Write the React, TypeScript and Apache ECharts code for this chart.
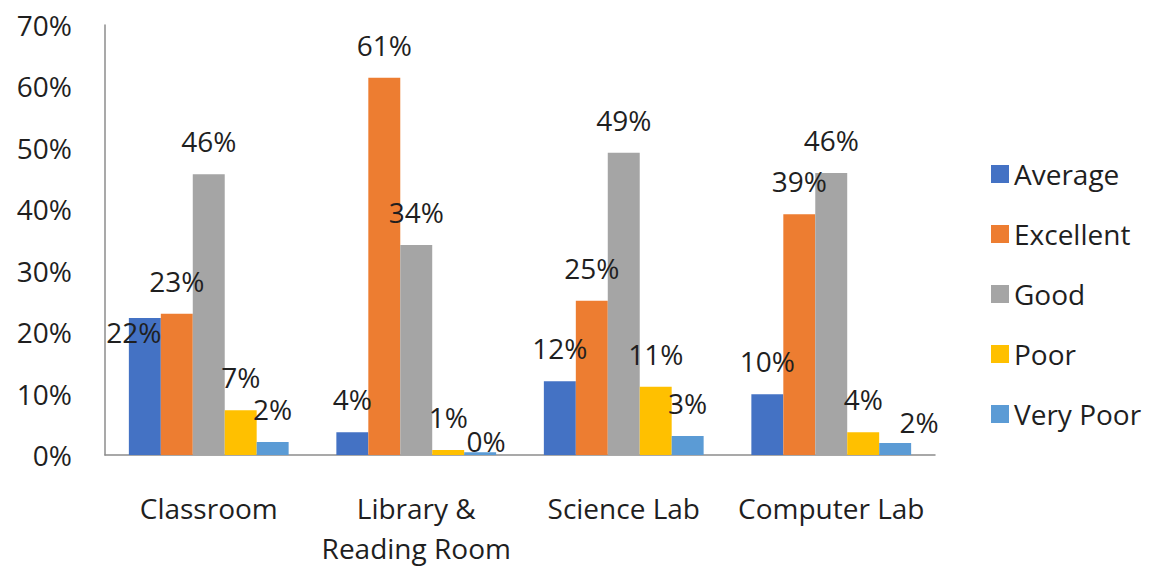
import React, { useEffect, useRef } from "react";
import * as echarts from "echarts";

const categories = ["Classroom", "Library &\nReading Room", "Science Lab", "Computer Lab"];
const seriesNames = ["Average", "Excellent", "Good", "Poor", "Very Poor"];
const average = [22.3, 3.7, 12.0, 9.9];
const excellent = [23.0, 61.4, 25.1, 39.2];
const good = [45.7, 34.2, 49.2, 45.9];
const poor = [7.3, 0.8, 11.1, 3.7];
const veryPoor = [2.1, 0.45, 3.1, 1.95];
const colors = ["#4472C4", "#ED7D31", "#A5A5A5", "#FFC000", "#5B9BD5"];
const yTicks = [0, 10, 20, 30, 40, 50, 60, 70];

// label nudges (series index -> category index -> [dx, dy])
const labelNudges: Record<string, [number, number]> = {
  "0-0": [-11, 47],
  "4-1": [6, 22],
  "4-3": [24, 12],
};

const FONT = "'Open Sans', sans-serif";
const TEXT = "#1f1f1f";

export default function App() {
  const ref = useRef<HTMLDivElement>(null);
  useEffect(() => {
    if (!ref.current) return;
    const chart = echarts.init(ref.current, undefined, { renderer: "svg" });
    const all = [average, excellent, good, poor, veryPoor];
    chart.setOption({
      animation: false,
      backgroundColor: "#ffffff",
      textStyle: { fontFamily: FONT },
      grid: { left: 105, right: 216, top: 25, bottom: 112, outerBoundsMode: "none" },
      legend: {
        orient: "vertical",
        left: 986,
        top: 155,
        itemWidth: 18,
        itemHeight: 18,
        itemGap: 32,
        icon: "rect",
        data: seriesNames,
        textStyle: { fontFamily: FONT, fontSize: 28, color: TEXT, lineHeight: 28, padding: [0, 0, 0, 0] },
      },
      xAxis: {
        type: "category",
        data: categories,
        axisLine: { lineStyle: { color: "#8c8c8c", width: 1.5 } },
        axisTick: { show: false },
        axisLabel: { fontFamily: FONT, fontSize: 28, color: TEXT, margin: 33, lineHeight: 40, interval: 0 },
      },
      yAxis: {
        type: "value",
        min: 0,
        max: 70,
        interval: 10,
        axisLine: { show: true, lineStyle: { color: "#8c8c8c", width: 1.5 } },
        axisTick: { show: false },
        splitLine: { show: false },
        axisLabel: {
          fontFamily: FONT,
          fontSize: 28,
          color: TEXT,
          margin: 33,
          formatter: (v: number) => (yTicks.includes(v) ? `${v}%` : ""),
        },
      },
      series: seriesNames.map((name, si) => ({
        name,
        type: "bar",
        barGap: "0%",
        barCategoryGap: "23%",
        itemStyle: { color: colors[si] },
        label: {
          show: true,
          position: ["50%", -33],
          align: "center",
          verticalAlign: "middle",
          fontFamily: FONT,
          fontSize: 28,
          color: TEXT,
          formatter: (p: any) => `${Math.round(p.value)}%`,
        },
        data: all[si].map((v, ci) => {
          const n = labelNudges[`${si}-${ci}`];
          return n ? { value: v, label: { offset: n } } : v;
        }),
      })),
    });
    return () => chart.dispose();
  }, []);
  return (
    <div
      ref={ref}
      style={{ position: "fixed", left: 0, top: 0, width: 1151, height: 567, background: "#fff" }}
    />
  );
}
